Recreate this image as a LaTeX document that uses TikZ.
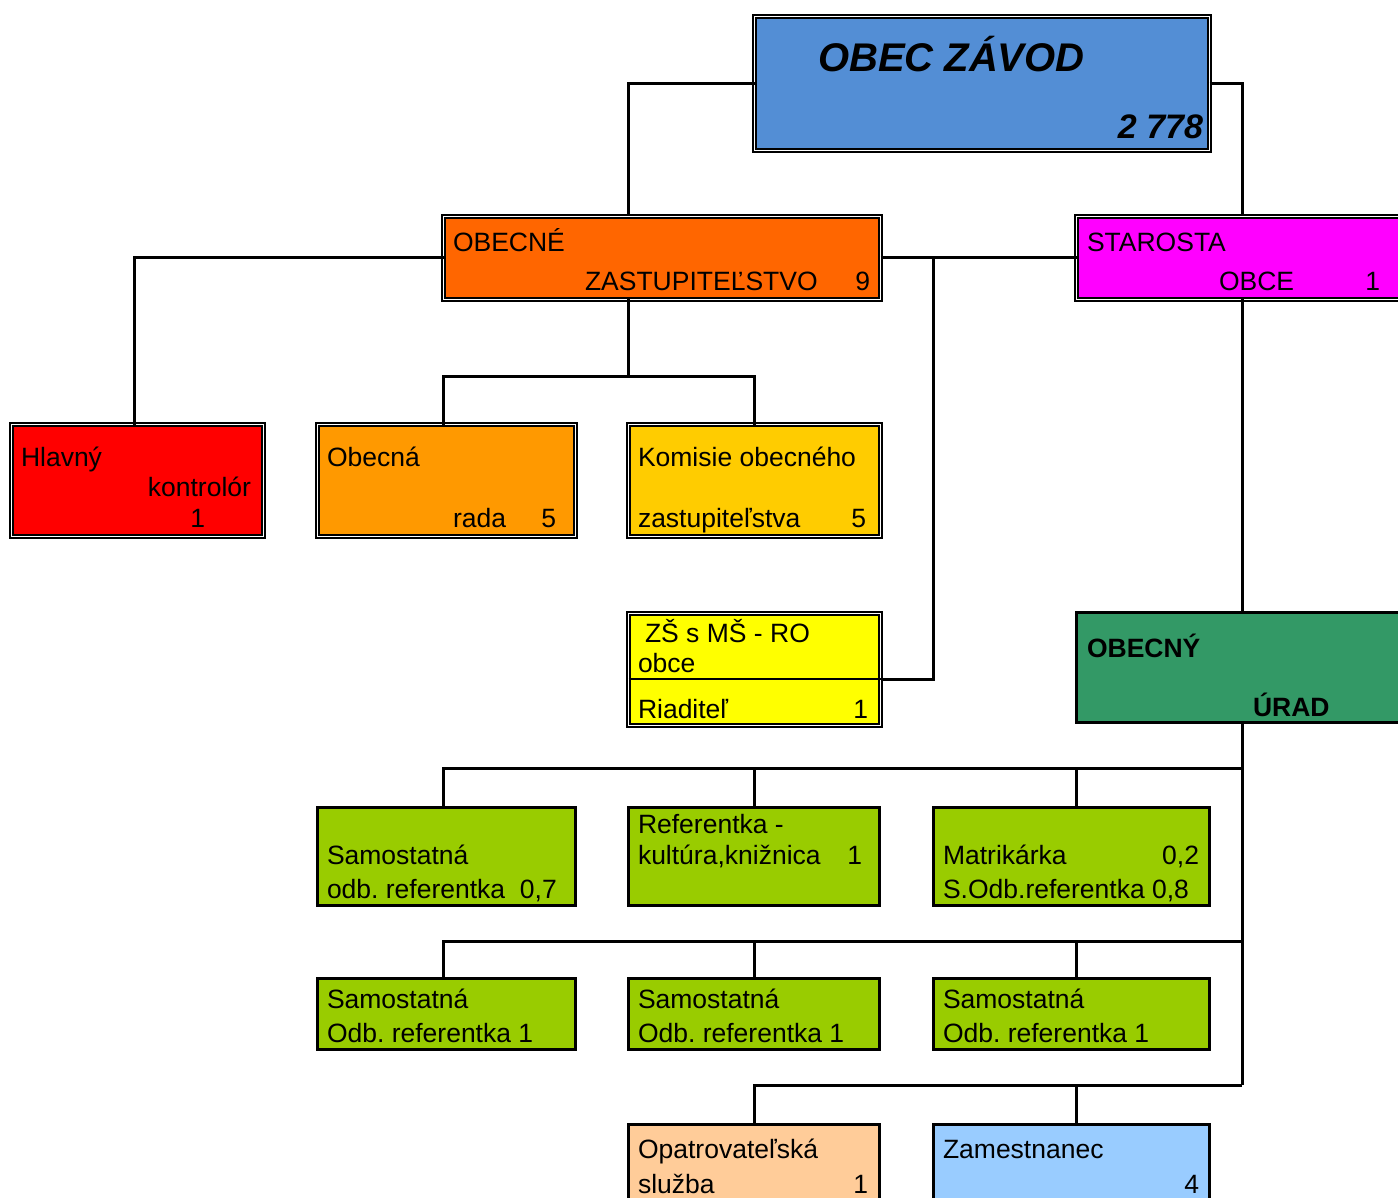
\documentclass[tikz,border=0pt]{standalone}
\usepackage{fontspec}
\setmainfont{Liberation Sans}
\usetikzlibrary{calc}
\frenchspacing
\definecolor{cblue}{HTML}{538ED5}
\definecolor{corange}{HTML}{FF6600}
\definecolor{cmag}{HTML}{FF00FF}
\definecolor{cred}{HTML}{FF0000}
\definecolor{crada}{HTML}{FF9900}
\definecolor{ckom}{HTML}{FFCC00}
\definecolor{cyel}{HTML}{FFFF00}
\definecolor{curad}{HTML}{339966}
\definecolor{cgreen}{HTML}{99CC00}
\definecolor{copat}{HTML}{FFCC99}
\definecolor{czam}{HTML}{99CCFF}
\tikzset{
 dbox/.style={draw=black, double=white, double distance=1.8pt, line width=1.6pt, inner sep=0pt, outer sep=0pt},
 sbox/.style={draw=black, line width=3pt, inner sep=0pt, outer sep=0pt},
 conn/.style={line width=3pt},
 txt/.style={inner sep=0pt, outer sep=0pt, font=\fontsize{26.5}{30}\selectfont},
 lt/.style={txt, anchor=base west},
 rt/.style={txt, anchor=base east},
}
\begin{document}
\begin{tikzpicture}[x=1pt,y=-1pt]
\useasboundingbox (0,0) rectangle (1398,1198);
\clip (0,0) rectangle (1398,1198);
% boxes
\node[dbox, fill=cblue, minimum width=455pt, minimum height=134pt] (top) at (982,83.5) {};
\node[dbox, fill=corange, minimum width=437pt, minimum height=83pt] (zast) at (662,258) {};
\node[dbox, fill=cmag, minimum width=343.5pt, minimum height=83pt] (star) at (1248.25,258) {};
\node[dbox, fill=cred, minimum width=252pt, minimum height=112pt] (hlav) at (137.5,480.5) {};
\node[dbox, fill=crada, minimum width=258pt, minimum height=112pt] (rada) at (446.5,480.5) {};
\node[dbox, fill=ckom, minimum width=252pt, minimum height=112pt] (kom) at (754.5,480.5) {};
\node[dbox, fill=cyel, minimum width=252pt, minimum height=112pt] (zs) at (754.5,669.5) {};
\draw[line width=1.2pt] ([yshift=-9.5pt]zs.west) -- ([yshift=-9.5pt]zs.east);
\node[sbox, fill=curad, minimum width=343.5pt, minimum height=110pt] (urad) at (1248.25,667.5) {};
\node[sbox, fill=cgreen, minimum width=258pt, minimum height=98pt] (a1) at (446.5,856.5) {};
\node[sbox, fill=cgreen, minimum width=251pt, minimum height=98pt] (b1) at (754,856.5) {};
\node[sbox, fill=cgreen, minimum width=276pt, minimum height=98pt] (c1) at (1071.5,856.5) {};
\node[sbox, fill=cgreen, minimum width=258pt, minimum height=71pt] (a2) at (446.5,1014) {};
\node[sbox, fill=cgreen, minimum width=251pt, minimum height=71pt] (b2) at (754,1014) {};
\node[sbox, fill=cgreen, minimum width=276pt, minimum height=71pt] (c2) at (1071.5,1014) {};
\node[sbox, fill=copat, minimum width=251pt, minimum height=100pt] (opat) at (754,1174.5) {};
\node[sbox, fill=czam, minimum width=276pt, minimum height=100pt] (zam) at (1071.5,1174.5) {};
% bus coordinates
\coordinate (jr) at (628,376);
\coordinate (r1) at (1242,768);
\coordinate (r2) at (1242,941);
\coordinate (r3) at (1242,1085);
% connectors
\draw[conn] (top.west) -| ([xshift=-34pt]zast.north);
\draw[conn] (top.east) -| ([xshift=-6.25pt]star.north);
\draw[conn] (zast.west) -| ([xshift=-3.5pt]hlav.north);
\draw[conn] (zast.east) -- (star.west);
\draw[conn] ([yshift=-9.5pt]zs.east) -| ($(zast.east)+(52.5,0)$);
\draw[conn] ([xshift=-34pt]zast.south) -- (jr);
\draw[conn] ([xshift=-3.5pt]rada.north) |- (jr);
\draw[conn] (kom.north) |- (jr);
\draw[conn] ([xshift=-6.25pt]star.south) -- ([xshift=-6.25pt]urad.north);
\draw[conn] ([xshift=-6.25pt]urad.south) -- (r3);
\draw[conn] ([xshift=-3.5pt]a1.north) |- (r1);
\draw[conn] (b1.north) |- (r1);
\draw[conn] ([xshift=4.5pt]c1.north) |- (r1);
\draw[conn] ([xshift=-3.5pt]a2.north) |- (r2);
\draw[conn] (b2.north) |- (r2);
\draw[conn] ([xshift=4.5pt]c2.north) |- (r2);
\draw[conn] (opat.north) |- (r3);
\draw[conn] ([xshift=4.5pt]zam.north) |- (r3);
% texts
\node[lt, font=\fontsize{40}{44}\bfseries\itshape] (t1) at (818,72) {OBEC ZÁVOD};
\node[rt, font=\fontsize{34}{38}\bfseries\itshape] (t2) at (1203,139) {2 778};
\node[lt] (t3) at (453,252) {OBECNÉ};
\node[lt] (t4) at (585,291) {ZASTUPITEĽSTVO};
\node[rt] (t5) at (870,291) {9};
\node[lt] (t6) at (1087,252) {STAROSTA};
\node[lt] (t7) at (1219,291) {OBCE};
\node[rt] (t8) at (1380,291) {1};
\node[lt] (t9) at (21,466) {Hlavný};
\node[rt] (t10) at (251,496) {kontrolór};
\node[rt] (t11) at (205,527) {1};
\node[lt] (t12) at (327,466) {Obecná};
\node[lt] (t13) at (453,527) {rada};
\node[rt] (t14) at (556,527) {5};
\node[lt] (t15) at (638,466) {Komisie obecného};
\node[lt] (t16) at (638,527) {zastupiteľstva};
\node[rt] (t17) at (866,527) {5};
\node[lt] (t18) at (645,642) {ZŠ s MŠ - RO};
\node[lt] (t19) at (638,672) {obce};
\node[lt] (t20) at (638,718) {Riaditeľ};
\node[rt] (t21) at (868,718) {1};
\node[lt, font=\fontsize{26.5}{30}\bfseries] (t22) at (1087,657) {OBECNÝ};
\node[lt, font=\fontsize{26.5}{30}\bfseries] (t23) at (1253,716) {ÚRAD};
\node[lt] (t24) at (327,864) {Samostatná};
\node[lt] (t25) at (327,898) {odb. referentka\ \ 0,7};
\node[lt] (t26) at (638,833) {Referentka -};
\node[lt] (t27) at (638,864) {kultúra,knižnica};
\node[rt] (t28) at (862,864) {1};
\node[lt] (t29) at (943,864) {Matrikárka};
\node[rt] (t30) at (1199,864) {0,2};
\node[lt] (t31) at (943,898) {S.Odb.referentka 0,8};
\node[lt] (t32) at (327,1008) {Samostatná};
\node[lt] (t33) at (327,1042) {Odb. referentka 1};
\node[lt] (t34) at (638,1008) {Samostatná};
\node[lt] (t35) at (638,1042) {Odb. referentka 1};
\node[lt] (t36) at (943,1008) {Samostatná};
\node[lt] (t37) at (943,1042) {Odb. referentka 1};
\node[lt] (t38) at (638,1158) {Opatrovateľská};
\node[lt] (t39) at (638,1193) {služba};
\node[rt] (t40) at (868,1193) {1};
\node[lt] (t41) at (943,1158) {Zamestnanec};
\node[rt] (t42) at (1199,1193) {4};
\end{tikzpicture}
\end{document}
